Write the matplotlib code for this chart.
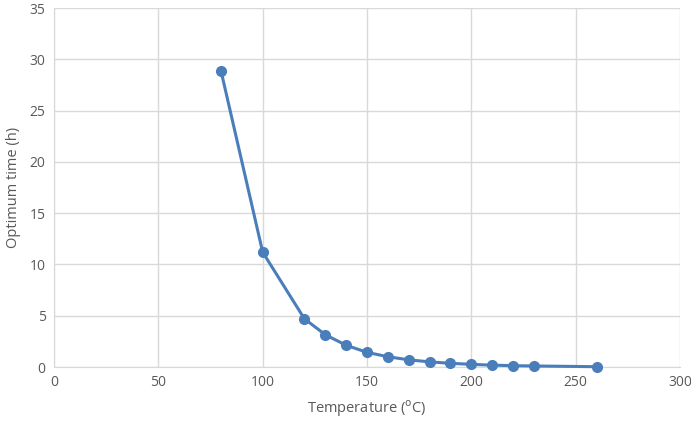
import matplotlib
matplotlib.use("Agg")
import matplotlib.pyplot as plt

temperature = [80, 100, 120, 130, 140, 150, 160, 170, 180, 190, 200, 210, 220, 230, 260]
optimum_time = [28.9, 11.2, 4.7, 3.15, 2.12, 1.43, 1.0, 0.7, 0.5, 0.36, 0.26, 0.18, 0.13, 0.1, 0.03]

x_ticks = [0, 50, 100, 150, 200, 250, 300]
y_ticks = [0, 5, 10, 15, 20, 25, 30, 35]

plt.rcParams['font.family'] = ['Open Sans', 'DejaVu Sans']
text_color = '#595959'
grid_color = '#d9d9d9'

fig = plt.figure(figsize=(6.91, 4.23), dpi=100)
ax = fig.add_axes([54/691, (423-367)/423, (680-54)/691, (367-8)/423])

ax.plot(temperature, optimum_time, color='#4a7ebb', linewidth=2.2, marker='o',
        markersize=7, zorder=3, clip_on=False)

ax.set_xlim(0, 300)
ax.set_ylim(0, 35)
ax.set_xticks(x_ticks)
ax.set_yticks(y_ticks)
ax.grid(True, color=grid_color, linewidth=1)
ax.set_axisbelow(True)
for s in ['top', 'right']:
    ax.spines[s].set_visible(False)
ax.spines['left'].set_color(grid_color)
ax.spines['bottom'].set_color(grid_color)
ax.tick_params(length=0, labelcolor=text_color, labelsize=10, pad=6)
ax.set_xlabel('Temperature ($^{\\mathrm{o}}$C)', color=text_color, fontsize=10.5, labelpad=6)
ax.set_ylabel('Optimum time (h)', color=text_color, fontsize=10.5, labelpad=6)

fig.savefig('out.png', dpi=100)
